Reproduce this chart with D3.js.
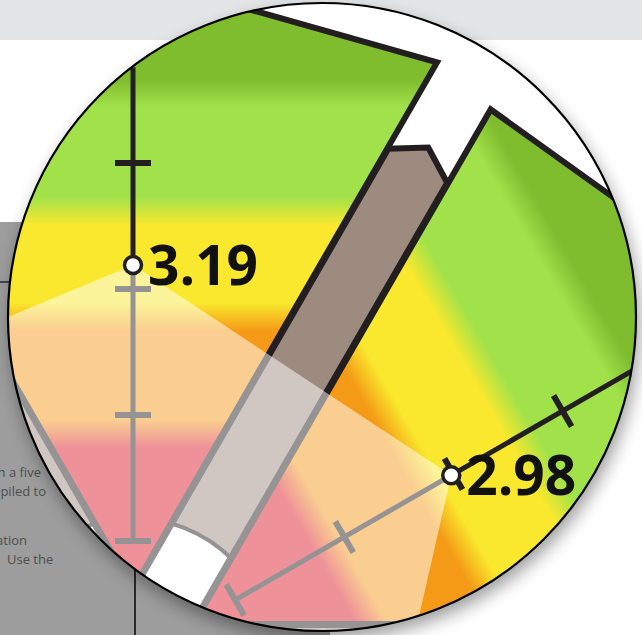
<!DOCTYPE html>
<html lang="en">
<head>
  <meta charset="UTF-8">
  <title>Score wheel (magnified)</title>
  <style>
    body { margin: 0; background: #fff; }
    svg { display: block; }
    .page-text { font-family: "Open Sans", sans-serif; font-size: 13px; fill: #4e4e4e; }
    .value-label { font-family: "Open Sans", sans-serif; font-weight: 700; font-size: 55px; fill: #111; }
  </style>
</head>
<body>
  <svg id="chart" width="642" height="635"></svg>

  <script src="https://cdn.jsdelivr.net/npm/d3@7"></script>
  <script>
    // Data
    const axisAngles = [-120, -60, 0, 60, 120, 180];       // degrees, clockwise from up
    const scores     = [2.6, 3.7, 3.19, 2.98, 2.3, 2.5];
    const wedgeTop   = [5.4, 5.4, 5.48, 5.77, 5.4, 5.4];   // outer value on the wedge axis
    const wedgeEdge  = [5.3, 5.3, 5.37, 5.26, 5.3, 5.3];   // outer value at the wedge corners
    const barAngles  = [-90, -30, 30, 90, 150];
    const barValues  = [4.6, 4.9, 4.75, 4.5, 4.5];
    const tickValues = [1, 2, 3, 4];
    const axisMax = 4.76;
    const hubValue = 1.18;
    const bandBreaks = [1.85, 2.78, 3.62, 4.55];
    const bandColors = ["#dd1a2a", "#f49a17", "#f9e82d", "#a1e24a", "#7fbc2e"];
    const pageLines = [
      { text: "in a five", x: 41, y: 477, anchor: "end" },
      { text: "compiled to", x: 46, y: 496, anchor: "end" },
      { text: "information", x: 27, y: 545, anchor: "end" },
      { text: "Use the", x: 7, y: 564, anchor: "start" }
    ];

    const W = 642, H = 635;
    const C = { x: 133, y: 659 };           // centre of the wheel
    const lens = { x: 322, y: 317, r: 314 };
    const gap = 35, barHalf = 34, ink = "#231f20";

    const r = d3.scaleLinear().domain([1, 4]).range([118, 496]);

    // point at distance u along spoke `deg`, offset w to its clockwise side
    function pt(deg, u, w = 0) {
      const a = deg * Math.PI / 180, s = Math.sin(a), c = Math.cos(a);
      return [C.x + u * s + w * c, C.y - u * c + w * s];
    }

    const svg = d3.select("#chart");
    const defs = svg.append("defs");

    // page behind the lens
    svg.append("rect").attr("width", W).attr("height", H).attr("fill", "#fff");
    svg.append("rect").attr("width", W).attr("height", 40).attr("fill", "#e4e5e7");
    svg.append("path")
      .attr("d", "M0,222 L136,222 L136,560 L330,560 L330,635 L0,635 Z")
      .attr("fill", "#9d9d9d");
    svg.append("line").attr("x1", 135).attr("x2", 135).attr("y1", 560).attr("y2", H)
      .attr("stroke", "#2a2a2a").attr("stroke-width", 2);
    svg.append("line").attr("x1", 0).attr("x2", 10).attr("y1", 282).attr("y2", 282)
      .attr("stroke", "#2a2a2a").attr("stroke-width", 1.5);
    svg.selectAll(".page-text").data(pageLines).join("text")
      .attr("class", "page-text")
      .attr("x", d => d.x).attr("y", d => d.y)
      .attr("text-anchor", d => d.anchor)
      .text(d => d.text);

    // lens shadow
    const blur = defs.append("filter").attr("id", "shadow")
      .attr("x", "-20%").attr("y", "-20%").attr("width", "140%").attr("height", "140%");
    blur.append("feGaussianBlur").attr("stdDeviation", 9);
    svg.append("circle")
      .attr("cx", lens.x + 3).attr("cy", lens.y + 8).attr("r", lens.r)
      .attr("fill", "#000").attr("opacity", 0.4)
      .attr("filter", "url(#shadow)");

    defs.append("clipPath").attr("id", "lens-clip")
      .append("circle").attr("cx", lens.x).attr("cy", lens.y).attr("r", lens.r);

    const g = svg.append("g").attr("clip-path", "url(#lens-clip)");
    g.append("rect").attr("width", W).attr("height", H).attr("fill", "#fff");

    // colour bands along each wedge axis
    const gradLen = 760;
    axisAngles.forEach((deg, i) => {
      const end = pt(deg, gradLen);
      const grad = defs.append("linearGradient")
        .attr("id", "band" + i)
        .attr("gradientUnits", "userSpaceOnUse")
        .attr("x1", C.x).attr("y1", C.y).attr("x2", end[0]).attr("y2", end[1]);
      grad.append("stop").attr("offset", 0).attr("stop-color", bandColors[0]);
      bandBreaks.forEach((b, k) => {
        grad.append("stop").attr("offset", (r(b) - 14) / gradLen).attr("stop-color", bandColors[k]);
        grad.append("stop").attr("offset", (r(b) + 14) / gradLen).attr("stop-color", bandColors[k + 1]);
      });
      grad.append("stop").attr("offset", 1).attr("stop-color", bandColors[bandColors.length - 1]);
    });

    // wedges
    const wedges = axisAngles.map((deg, i) => [
      pt(deg, gap / Math.sin(Math.PI / 6)),
      pt(deg - 30, r(wedgeEdge[i]), gap),
      pt(deg, r(wedgeTop[i])),
      pt(deg + 30, r(wedgeEdge[i]), -gap)
    ]);
    g.selectAll(".wedge").data(wedges).join("path")
      .attr("class", "wedge")
      .attr("d", d => "M" + d.join("L") + "Z")
      .attr("fill", (d, i) => "url(#band" + i + ")")
      .attr("stroke", ink).attr("stroke-width", 6).attr("stroke-linejoin", "miter");

    // bars in the gaps
    const barShape = (deg, v) => [
      pt(deg, 30, -barHalf),
      pt(deg, r(v) - 21, -barHalf),
      pt(deg, r(v)),
      pt(deg, r(v) - 21, barHalf),
      pt(deg, 30, barHalf)
    ];
    barAngles.forEach((deg, i) => {
      const shape = barShape(deg, barValues[i]);
      const d = "M" + shape.join("L") + "Z";
      defs.append("clipPath").attr("id", "bar-clip" + i).append("path").attr("d", d);
      g.append("path").attr("d", d).attr("fill", "#9e8b80");
      g.append("circle")
        .attr("cx", C.x).attr("cy", C.y).attr("r", r(hubValue))
        .attr("fill", "#fff").attr("stroke", ink).attr("stroke-width", 4)
        .attr("clip-path", "url(#bar-clip" + i + ")");
      g.append("path").attr("d", d).attr("fill", "none")
        .attr("stroke", ink).attr("stroke-width", 6).attr("stroke-linejoin", "miter");
    });

    // value axes
    axisAngles.forEach(deg => {
      const a = pt(deg, r(1)), b = pt(deg, r(axisMax));
      g.append("line")
        .attr("x1", a[0]).attr("y1", a[1]).attr("x2", b[0]).attr("y2", b[1])
        .attr("stroke", ink).attr("stroke-width", 5);
      tickValues.forEach(t => {
        const p = pt(deg, r(t), -18), q = pt(deg, r(t), 18);
        g.append("line")
          .attr("x1", p[0]).attr("y1", p[1]).attr("x2", q[0]).attr("y2", q[1])
          .attr("stroke", ink).attr("stroke-width", 6);
      });
    });

    // score polygon veils everything inside it
    const scorePts = axisAngles.map((deg, i) => pt(deg, r(scores[i])));
    g.append("path")
      .attr("d", d3.line().curve(d3.curveLinearClosed)(scorePts))
      .attr("fill", "#fff").attr("fill-opacity", 0.52);

    // score markers and labels
    g.selectAll(".dot").data(scorePts).join("circle")
      .attr("class", "dot")
      .attr("cx", d => d[0]).attr("cy", d => d[1]).attr("r", 8.5)
      .attr("fill", "#fff").attr("stroke", ink).attr("stroke-width", 3.5);
    g.selectAll(".value-label").data(scorePts).join("text")
      .attr("class", "value-label")
      .attr("x", d => d[0] + 15).attr("y", d => d[1] + 20)
      .text((d, i) => scores[i].toFixed(2));

    // lens rim
    svg.append("circle")
      .attr("cx", lens.x).attr("cy", lens.y).attr("r", lens.r)
      .attr("fill", "none").attr("stroke", "#000").attr("stroke-width", 2.2);
  </script>
</body>
</html>
